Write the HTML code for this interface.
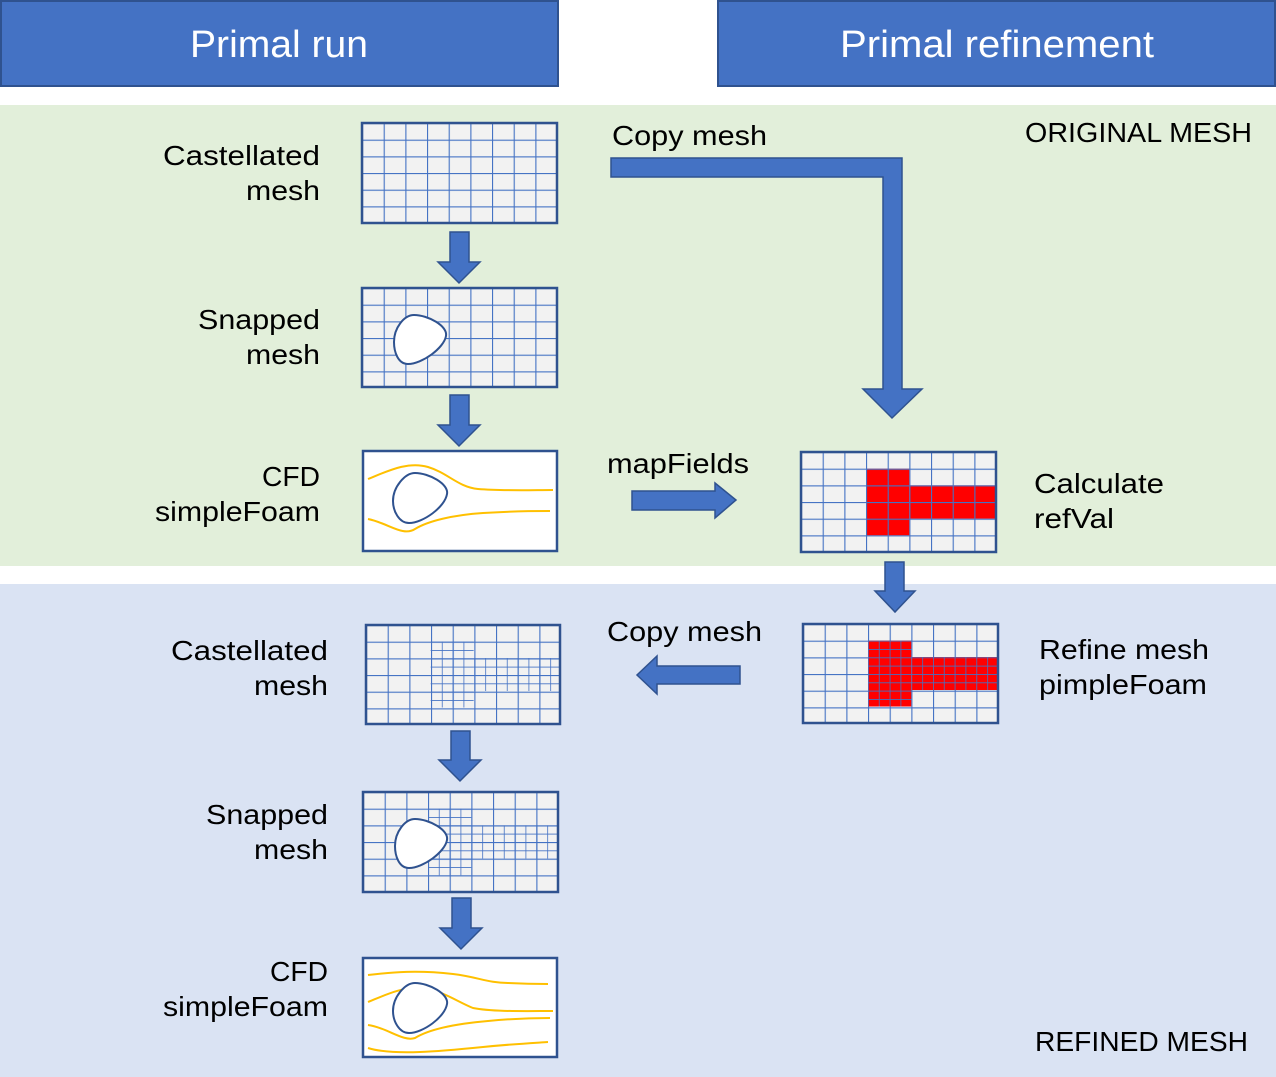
<!DOCTYPE html>
<html><head><meta charset="utf-8"><style>html,body{margin:0;padding:0;background:#fff}svg{display:block}</style></head>
<body>
<svg width="1276" height="1077" viewBox="0 0 1276 1077" xmlns="http://www.w3.org/2000/svg" font-family="Liberation Sans, sans-serif">
<defs>
<pattern id="g" patternUnits="userSpaceOnUse" width="21.667" height="16.667">
<rect width="21.667" height="16.667" fill="#f2f2f2"/>
<path d="M0,0H21.667M0,0V16.667" stroke="#4472c4" stroke-width="2.2" fill="none"/>
</pattern>
<pattern id="f" patternUnits="userSpaceOnUse" width="10.833" height="8.333">
<path d="M0,0H10.833M0,0V8.333" stroke="#4472c4" stroke-width="1.6" fill="none"/>
</pattern>
<pattern id="fr" patternUnits="userSpaceOnUse" width="10.833" height="8.333">
<rect width="10.833" height="8.333" fill="#ff0000"/>
<path d="M0,0H10.833M0,0V8.333" stroke="#4472c4" stroke-width="1.6" fill="none"/>
</pattern>
<pattern id="gr" patternUnits="userSpaceOnUse" width="21.667" height="16.667">
<rect width="21.667" height="16.667" fill="#ff0000"/>
<path d="M0,0H21.667M0,0V16.667" stroke="#4472c4" stroke-width="2.2" fill="none"/>
</pattern>
</defs>

<rect x="0" y="105" width="1276" height="461" fill="#e2efda"/>
<rect x="0" y="584" width="1276" height="493" fill="#dae3f3"/>

<rect x="1" y="1" width="557" height="85" fill="#4472c4" stroke="#2f528f" stroke-width="2"/>
<rect x="718" y="1" width="557" height="85" fill="#4472c4" stroke="#2f528f" stroke-width="2"/>
<text x="279" y="57" font-size="38" fill="#fff" text-anchor="middle" textLength="178" lengthAdjust="spacingAndGlyphs">Primal run</text>
<text x="997" y="57" font-size="38" fill="#fff" text-anchor="middle" textLength="314" lengthAdjust="spacingAndGlyphs">Primal refinement</text>

<g font-size="28" fill="#000">
<text x="320" y="165" text-anchor="end" textLength="157" lengthAdjust="spacingAndGlyphs">Castellated</text>
<text x="320" y="200" text-anchor="end" textLength="74" lengthAdjust="spacingAndGlyphs">mesh</text>
<text x="320" y="329" text-anchor="end" textLength="122" lengthAdjust="spacingAndGlyphs">Snapped</text>
<text x="320" y="364" text-anchor="end" textLength="74" lengthAdjust="spacingAndGlyphs">mesh</text>
<text x="320" y="486" text-anchor="end" textLength="58" lengthAdjust="spacingAndGlyphs">CFD</text>
<text x="320" y="521" text-anchor="end" textLength="165" lengthAdjust="spacingAndGlyphs">simpleFoam</text>
<text x="328" y="660" text-anchor="end" textLength="157" lengthAdjust="spacingAndGlyphs">Castellated</text>
<text x="328" y="695" text-anchor="end" textLength="74" lengthAdjust="spacingAndGlyphs">mesh</text>
<text x="328" y="824" text-anchor="end" textLength="122" lengthAdjust="spacingAndGlyphs">Snapped</text>
<text x="328" y="859" text-anchor="end" textLength="74" lengthAdjust="spacingAndGlyphs">mesh</text>
<text x="328" y="981" text-anchor="end" textLength="58" lengthAdjust="spacingAndGlyphs">CFD</text>
<text x="328" y="1016" text-anchor="end" textLength="165" lengthAdjust="spacingAndGlyphs">simpleFoam</text>
<text x="612" y="145" textLength="155" lengthAdjust="spacingAndGlyphs">Copy mesh</text>
<text x="607" y="473" textLength="142" lengthAdjust="spacingAndGlyphs">mapFields</text>
<text x="607" y="641" textLength="155" lengthAdjust="spacingAndGlyphs">Copy mesh</text>
<text x="1034" y="493" textLength="130" lengthAdjust="spacingAndGlyphs">Calculate</text>
<text x="1034" y="528" textLength="80" lengthAdjust="spacingAndGlyphs">refVal</text>
<text x="1039" y="659" textLength="170" lengthAdjust="spacingAndGlyphs">Refine mesh</text>
<text x="1039" y="694" textLength="168" lengthAdjust="spacingAndGlyphs">pimpleFoam</text>
<text x="1025" y="142" textLength="227" lengthAdjust="spacingAndGlyphs">ORIGINAL MESH</text>
<text x="1035" y="1051" textLength="213" lengthAdjust="spacingAndGlyphs">REFINED MESH</text>
</g>

<svg x="362" y="123" width="195" height="100" overflow="visible">
<rect width="195" height="100" fill="url(#g)" stroke="#2f528f" stroke-width="2.5"/>
</svg>
<svg x="362" y="288" width="195" height="99" overflow="visible">
<rect width="195" height="99" fill="url(#g)" stroke="#2f528f" stroke-width="2.5"/>
<path d="M52,27 C66,27 86,38 84,48 C82,60 60,76 46,76 C36,76 32,64 32,54 C32,40 42,27 52,27 Z" fill="#fff" stroke="#2f528f" stroke-width="2"/>
</svg>
<svg x="363" y="451" width="194" height="100" overflow="visible">
<rect width="194" height="100" fill="#fff" stroke="#2f528f" stroke-width="2.5"/>
<g fill="none" stroke="#ffc000" stroke-width="2">
<path d="M5,28 C25,20 45,10 65,16 C85,22 95,36 115,38 C140,40 170,39 190,39"/>
<path d="M5,68 C25,72 40,86 52,78 C65,70 90,64 120,62 C150,60 170,60 187,60"/>
</g>
<path d="M52,22 C66,22 86,33 84,43 C82,56 60,72 46,72 C36,72 30,60 30,50 C30,36 42,22 52,22 Z" fill="#fff" stroke="#2f528f" stroke-width="2"/>
</svg>

<svg x="801" y="452" width="195" height="100" overflow="visible">
<rect width="195" height="100" fill="url(#g)"/>
<rect x="65" y="16.667" width="43.333" height="66.667" fill="url(#gr)"/>
<rect x="108.333" y="33.333" width="86.667" height="33.333" fill="url(#gr)"/>
<rect width="195" height="100" fill="none" stroke="#2f528f" stroke-width="2.5"/>
</svg>
<svg x="803" y="624" width="195" height="99" overflow="visible">
<rect width="195" height="99" fill="url(#g)"/>
<rect x="65" y="16.5" width="43.333" height="66" fill="url(#fr)"/>
<rect x="108.333" y="33" width="86.667" height="33" fill="url(#fr)"/>
<rect width="195" height="99" fill="none" stroke="#2f528f" stroke-width="2.5"/>
</svg>

<svg x="366" y="625" width="194" height="99" overflow="visible">
<rect width="194" height="99" fill="url(#g)"/>
<rect x="64.667" y="16.5" width="43" height="66" fill="url(#f)"/>
<rect x="107.667" y="33" width="86" height="33" fill="url(#f)"/>
<rect width="194" height="99" fill="none" stroke="#2f528f" stroke-width="2.5"/>
</svg>
<svg x="363" y="792" width="195" height="100" overflow="visible">
<rect width="195" height="100" fill="url(#g)"/>
<rect x="65" y="16.667" width="43.333" height="66.667" fill="url(#f)"/>
<rect x="108.333" y="33.333" width="86.667" height="33.333" fill="url(#f)"/>
<rect width="195" height="100" fill="none" stroke="#2f528f" stroke-width="2.5"/>
<path d="M52,27 C66,27 86,38 84,48 C82,60 60,76 46,76 C36,76 32,64 32,54 C32,40 42,27 52,27 Z" fill="#fff" stroke="#2f528f" stroke-width="2"/>
</svg>
<svg x="363" y="958" width="194" height="99" overflow="visible">
<rect width="194" height="99" fill="#fff" stroke="#2f528f" stroke-width="2.5"/>
<g fill="none" stroke="#ffc000" stroke-width="2">
<path d="M5,17 C30,14 55,12 90,16 C115,19 125,25 145,25 C165,26 175,26 185,26"/>
<path d="M5,44 C20,38 40,28 60,30 C80,33 95,44 110,50 C130,54 165,53 190,53"/>
<path d="M5,67 C25,70 40,84 52,80 C65,72 90,66 125,63 C155,60 175,60 187,60"/>
<path d="M5,90 C30,98 80,93 120,89 C150,86 170,85 185,84"/>
</g>
<path d="M52,25 C66,25 86,36 84,46 C82,59 60,75 46,75 C36,75 30,63 30,53 C30,39 42,25 52,25 Z" fill="#fff" stroke="#2f528f" stroke-width="2"/>
</svg>

<g fill="#4472c4" stroke="#2f528f" stroke-width="1.5">
<polygon points="450,232 469,232 469,262 480,262 459,283 438,262 450,262"/>
<polygon points="450,395 469,395 469,425 480,425 459,446 438,425 450,425"/>
<polygon points="451,731 470,731 470,760 481,760 460,781 439,760 451,760"/>
<polygon points="452,898 471,898 471,928 482,928 461,949 440,928 452,928"/>
<polygon points="885,562 904,562 904,591 915,591 895,612 875,591 885,591"/>
<polygon points="611,158 902,158 902,389 922,389 892,418 863,389 883,389 883,177 611,177"/>
<polygon points="632,491 715,491 715,483 736,500 715,518 715,510 632,510"/>
<polygon points="740,666 657,666 657,656 637,675 657,694 657,684 740,684"/>
</g>
</svg>
</body></html>
